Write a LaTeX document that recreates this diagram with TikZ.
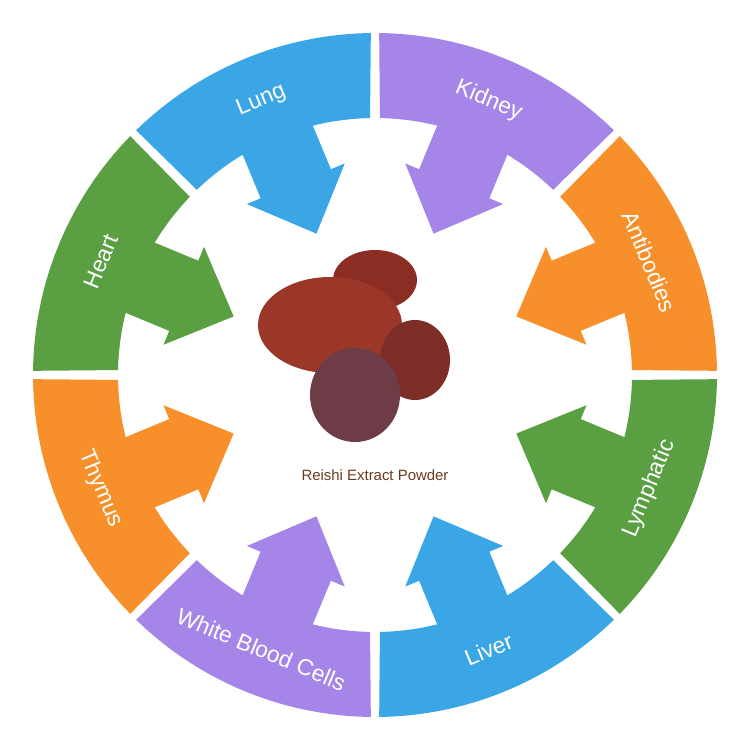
\documentclass[tikz,border=0pt]{standalone}
\usepackage{fontspec}
\setmainfont{Liberation Sans}
\definecolor{cblue}{HTML}{3AA6E6}
\definecolor{cpurple}{HTML}{A586E8}
\definecolor{corange}{HTML}{F7902A}
\definecolor{cgreen}{HTML}{5AA043}
\definecolor{cbrown}{HTML}{6B3A1E}
\tikzset{seglabel/.style={text=white,font=\fontsize{13}{15}\selectfont,inner sep=0pt}}
\newcommand{\segarrow}[5]{%
  \fill[#2,rotate=#1-90] (68.2:342) arc[start angle=68.2,end angle=111.8,radius=342]
    -- (111.4:257) arc[start angle=111.4,end angle=98.5,radius=257]
    -- (-38,207) -- (-53,207) -- (0,153) -- (53,207) -- (38,207)
    -- (81.5:257) arc[start angle=81.5,end angle=68.6,radius=257] -- cycle;
  \node[seglabel,rotate=#3] (#4) at (#1:297) {#5};}
\begin{document}
\begin{tikzpicture}[x=0.02cm,y=0.02cm]
\useasboundingbox (-375,-375) rectangle (375,375);
\segarrow{112.5}{cblue}{22.5}{lung}{Lung}
\segarrow{67.5}{cpurple}{-22.5}{kidney}{Kidney}
\segarrow{22.5}{corange}{-67.5}{antibodies}{Antibodies}
\segarrow{-22.5}{cgreen}{67.5}{lymphatic}{Lymphatic}
\segarrow{-67.5}{cblue}{22.5}{liver}{Liver}
\segarrow{-112.5}{cpurple}{-22.5}{wbc}{White Blood Cells}
\segarrow{-157.5}{corange}{-67.5}{thymus}{Thymus}
\segarrow{157.5}{cgreen}{67.5}{heart}{Heart}
% mushrooms
\fill[color={rgb,255:red,140;green,45;blue,35}] (0,95) ellipse[x radius=42,y radius=30];
\fill[color={rgb,255:red,155;green,55;blue,40}] (-45,50) ellipse[x radius=72,y radius=48];
\fill[color={rgb,255:red,125;green,45;blue,40}] (40,15) ellipse[x radius=35,y radius=40];
\fill[color={rgb,255:red,110;green,60;blue,70}] (-20,-20) ellipse[x radius=45,y radius=47];
\node[text=cbrown,font=\fontsize{8.5}{10}\selectfont] (title) at (0,-100) {Reishi Extract Powder};
\end{tikzpicture}
\end{document}
